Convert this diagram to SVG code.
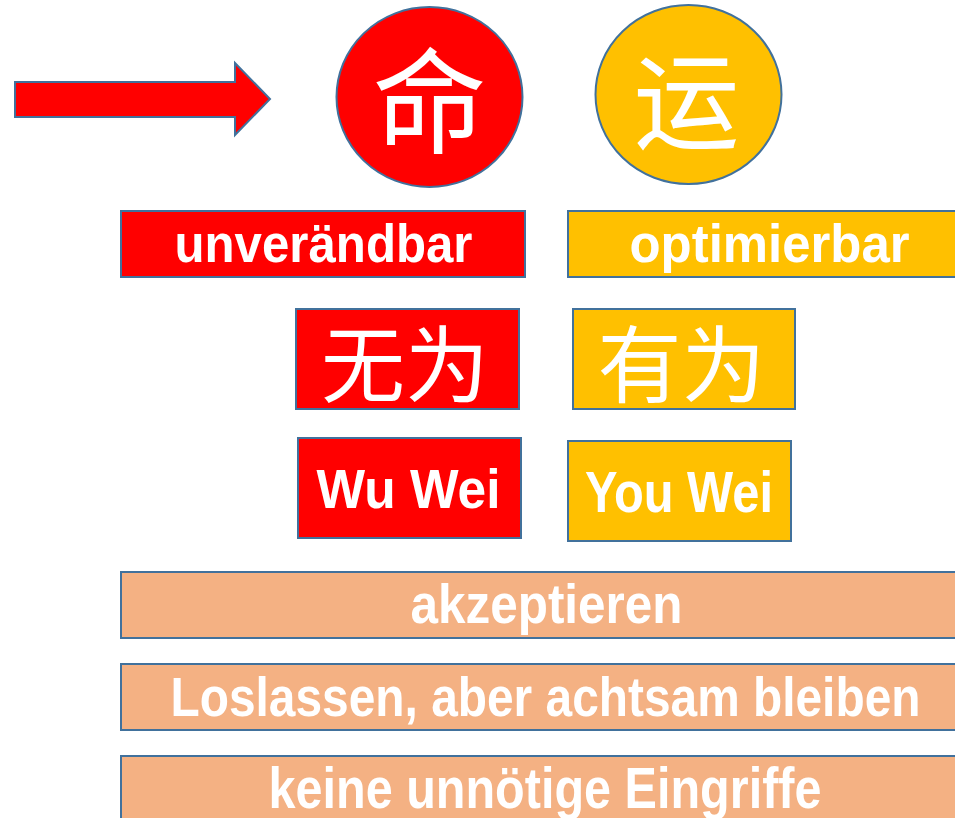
<svg xmlns="http://www.w3.org/2000/svg" width="955" height="818" viewBox="0 0 955 818">
<style>
.bx{stroke:#41719C;stroke-width:2}
.red{fill:#FF0000}
.yel{fill:#FFC000}
.sal{fill:#F4B183}
.lat{font-family:"Liberation Sans Narrow","Liberation Sans",Arial,sans-serif;font-stretch:condensed;font-weight:bold;fill:#FFFFFF;text-anchor:middle}
.cjk{font-family:"Noto Sans CJK SC","Noto Sans CJK TC",sans-serif;font-weight:400;fill:#FFFFFF;text-anchor:middle}
</style>
<rect width="955" height="818" fill="#FFFFFF"/>
<g id="arrow">
<polygon class="bx red" points="15,82 235,82 235,63 270,99 235,135 235,117 15,117"/>
</g>
<g id="ming">
<ellipse class="bx red" cx="429.5" cy="97" rx="93" ry="90"/>
<text class="cjk" x="429.5" y="144" font-size="114">命</text>
</g>
<g id="yun">
<ellipse class="bx yel" cx="688.5" cy="94.5" rx="93" ry="89.5"/>
<text class="cjk" x="686.5" y="141" font-size="106">运</text>
</g>
<g id="unveraendbar">
<rect class="bx red" x="121" y="211" width="404" height="66"/>
<text class="lat" x="323.5" y="262" font-size="54" textLength="298" lengthAdjust="spacingAndGlyphs">unverändbar</text>
</g>
<g id="optimierbar">
<rect class="bx yel" x="568" y="211" width="388" height="66"/>
<text class="lat" x="769.5" y="262" font-size="54" textLength="280" lengthAdjust="spacingAndGlyphs">optimierbar</text>
</g>
<g id="wuwei-cn">
<rect class="bx red" x="296" y="309" width="223" height="100"/>
<text class="cjk" x="405" y="396" font-size="84">无为</text>
</g>
<g id="youwei-cn">
<rect class="bx yel" x="573" y="309" width="222" height="100"/>
<text class="cjk" x="681.5" y="396" font-size="84">有为</text>
</g>
<g id="wuwei">
<rect class="bx red" x="298" y="438" width="223" height="100"/>
<text class="lat" x="408.5" y="508" font-size="56" textLength="184" lengthAdjust="spacingAndGlyphs">Wu Wei</text>
</g>
<g id="youwei">
<rect class="bx yel" x="568" y="441" width="223" height="100"/>
<text class="lat" x="679" y="511.5" font-size="57" textLength="188" lengthAdjust="spacingAndGlyphs">You Wei</text>
</g>
<g id="akzeptieren">
<rect class="bx sal" x="121" y="572" width="835" height="66"/>
<text class="lat" x="546.5" y="623" font-size="56" textLength="272" lengthAdjust="spacingAndGlyphs">akzeptieren</text>
</g>
<g id="loslassen">
<rect class="bx sal" x="121" y="664" width="835" height="66"/>
<text class="lat" x="545.5" y="716" font-size="56" textLength="750" lengthAdjust="spacingAndGlyphs">Loslassen, aber achtsam bleiben</text>
</g>
<g id="keine">
<rect class="bx sal" x="121" y="756" width="835" height="64"/>
<text class="lat" x="545" y="808" font-size="57" textLength="553" lengthAdjust="spacingAndGlyphs">keine unnötige Eingriffe</text>
</g>
<g id="connectors"></g>
</svg>
